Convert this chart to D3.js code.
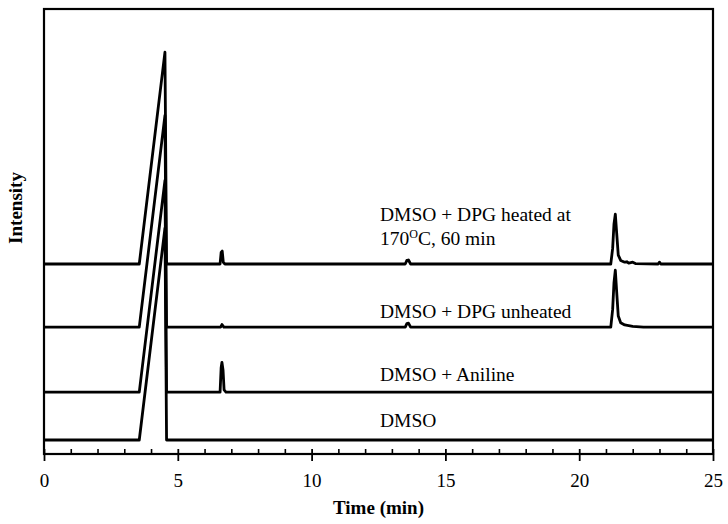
<!DOCTYPE html>
<html>
<head>
<meta charset="utf-8">
<script src="https://cdn.jsdelivr.net/npm/d3@7"></script>
<style>
  html, body { margin: 0; padding: 0; background: #fff; }
  svg { display: block; }
  svg text { font-family: "Liberation Serif", "DejaVu Serif", serif !important; fill: #000; }
</style>
</head>
<body>
<svg id="chart" width="728" height="524"></svg>
<script>
// ---- data (time in min, intensity in arbitrary units above each trace's baseline) ----
const seriesNames = ["DMSO", "DMSO + Aniline", "DMSO + DPG unheated", "DMSO + DPG heated at"];
const offsets = [3.15, 13.9, 28.5, 42.7];

const dmso = [[0,0],[3.56,0],[4.52,47.6],[4.58,0],[25,0]];

const aniline = [[0,0],[3.56,0],[4.52,47.6],[4.58,0],[6.58,0],[6.62,5.5],[6.65,6.7],
  [6.69,5.0],[6.73,0.5],[6.8,0],[25,0]];

const dpgUnheated = [[0,0],[3.56,0],[4.52,47.6],[4.58,0],[6.6,0],[6.65,0.6],[6.72,0],
  [13.5,0],[13.56,0.8],[13.62,0.9],[13.7,0],[21.18,0],[21.25,4.0],[21.30,10.0],[21.35,12.8],
  [21.40,8.0],[21.46,2.5],[21.55,1.0],[21.7,0.5],[22.0,0.2],[22.4,0],[25,0]];

const dpgHeated = [[0,0],[3.56,0],[4.52,47.6],[4.58,0],[6.58,0],[6.62,2.6],[6.66,2.9],
  [6.70,0.4],[6.76,0],[13.5,0],[13.56,0.8],[13.62,0.9],[13.70,0],[21.18,0],[21.25,3.5],
  [21.30,9.0],[21.35,11.2],[21.40,7.0],[21.46,2.0],[21.55,0.8],[21.7,0.4],[21.78,0.5],
  [21.85,0.2],[22.0,0.4],[22.1,0.1],[22.95,0],[23.0,0.4],[23.05,0],[25,0]];

const traces = [dmso, aniline, dpgUnheated, dpgHeated];

const majorTicks = [0, 5, 10, 15, 20, 25];
const minorTicks = d3.range(0, 26, 1).filter(v => v % 5 !== 0);
const xTitle = "Time (min)";
const yTitle = "Intensity";

// ---- layout ----
const FONT = "'Liberation Serif', 'DejaVu Serif', serif";
const svg = d3.select("#chart");
const mLeft = 44, mRight = 713, mTop = 9, mBottom = 454;

const x = d3.scaleLinear().domain([0, 25]).range([mLeft, mRight]);
const y = d3.scaleLinear().domain([0, 100]).range([mBottom, mTop]);

svg.append("defs").append("clipPath").attr("id", "clip")
  .append("rect").attr("x", mLeft).attr("y", mTop)
  .attr("width", mRight - mLeft).attr("height", mBottom - mTop);

// traces
const line = d3.line().x(d => x(d[0])).y(d => y(d[1]));
const g = svg.append("g").attr("clip-path", "url(#clip)");
traces.forEach((tr, i) => {
  const pts = tr.map(p => [p[0], p[1] + offsets[i]]);
  g.append("path").datum(pts)
    .attr("d", line)
    .attr("fill", "none")
    .attr("stroke", "#000")
    .attr("stroke-width", 2.8)
    .attr("stroke-linejoin", "round");
});

// frame
svg.append("rect").attr("x", mLeft).attr("y", mTop)
  .attr("width", mRight - mLeft).attr("height", mBottom - mTop)
  .attr("fill", "none").attr("stroke", "#000").attr("stroke-width", 2.2);

// minor ticks (inside)
const minorAxis = svg.append("g").attr("transform", `translate(0,${mBottom})`)
  .call(d3.axisBottom(x).tickValues(minorTicks).tickSize(-5).tickFormat(""));
minorAxis.select(".domain").remove();
minorAxis.selectAll("line").attr("stroke", "#000").attr("stroke-width", 1.6);

// major ticks (crossing) with labels
const majorAxis = svg.append("g").attr("transform", `translate(0,${mBottom})`)
  .attr("font-family", FONT)
  .call(d3.axisBottom(x).tickValues(majorTicks).tickSizeInner(7).tickSizeOuter(0).tickFormat(d3.format("d")));
majorAxis.attr("font-family", FONT).attr("font-size", 19);
majorAxis.select(".domain").remove();
majorAxis.selectAll("line").attr("y1", -5).attr("stroke", "#000").attr("stroke-width", 1.8);
majorAxis.selectAll("text")
  .attr("y", 33).attr("dy", 0)
  .style("font-family", FONT)
  .style("font-size", "19px").attr("fill", "#000");

// axis titles
svg.append("text").attr("x", (mLeft + mRight) / 2).attr("y", 514)
  .attr("text-anchor", "middle").style("font-family", FONT).attr("font-size", 19).attr("font-weight", "bold")
  .text(xTitle);
svg.append("text").attr("transform", "translate(22,208) rotate(-90)")
  .attr("text-anchor", "middle").style("font-family", FONT).attr("font-size", 19).attr("font-weight", "bold")
  .text(yTitle);

// series labels
const lx = 380;
const lab = (txt, by) => svg.append("text").attr("x", lx).attr("y", by)
  .style("font-family", FONT).attr("font-size", 19.5).text(txt);
lab(seriesNames[3], 221);
const l2 = svg.append("text").attr("x", lx).attr("y", 245)
  .style("font-family", FONT).attr("font-size", 19.5);
l2.append("tspan").text("170");
l2.append("tspan").attr("font-size", 12).attr("dy", -7).text("O");
l2.append("tspan").attr("dy", 7).text("C, 60 min");
lab(seriesNames[2], 318);
lab(seriesNames[1], 381);
lab(seriesNames[0], 427);
</script>
</body>
</html>
